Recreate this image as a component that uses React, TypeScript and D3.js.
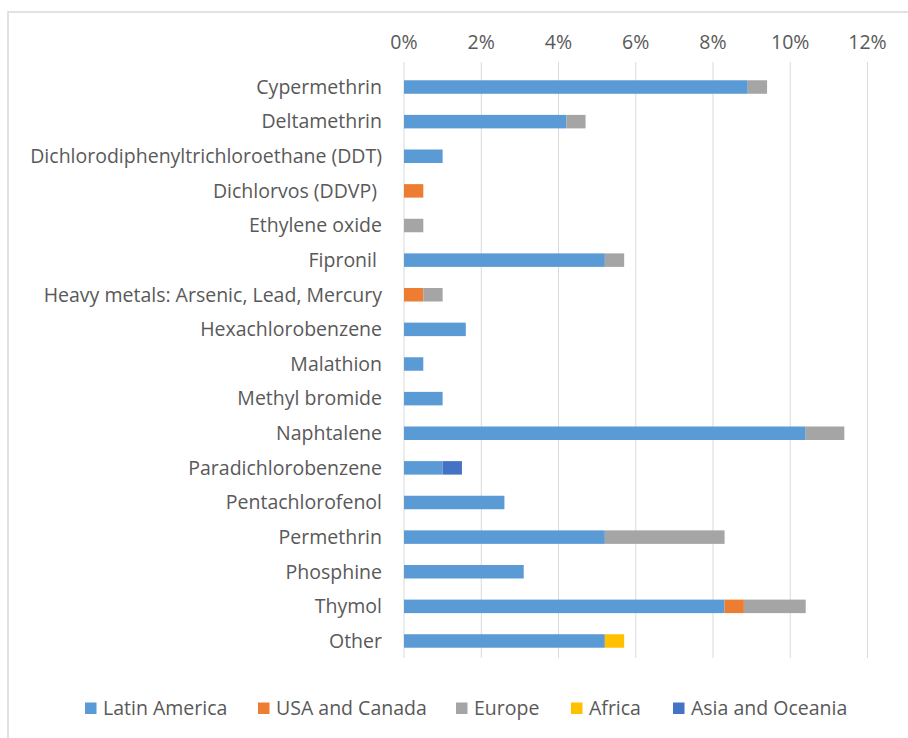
import React, { useEffect, useRef } from "react";
import * as d3 from "d3";

const categories = [
  "Cypermethrin",
  "Deltamethrin",
  "Dichlorodiphenyltrichloroethane (DDT)",
  "Dichlorvos (DDVP) ",
  "Ethylene oxide",
  "Fipronil ",
  "Heavy metals: Arsenic, Lead, Mercury",
  "Hexachlorobenzene",
  "Malathion",
  "Methyl bromide",
  "Naphtalene",
  "Paradichlorobenzene",
  "Pentachlorofenol",
  "Permethrin",
  "Phosphine",
  "Thymol",
  "Other",
];

const seriesNames = ["Latin America", "USA and Canada", "Europe", "Africa", "Asia and Oceania"];
const seriesColors = ["#5B9BD5", "#ED7D31", "#A5A5A5", "#FFC000", "#4472C4"];

// shares in percent, one entry per category
const latinAmerica = [8.9, 4.2, 1.0, 0, 0, 5.2, 0, 1.6, 0.5, 1.0, 10.4, 1.0, 2.6, 5.2, 3.1, 8.3, 5.2];
const usaCanada = [0, 0, 0, 0.5, 0, 0, 0.5, 0, 0, 0, 0, 0, 0, 0, 0, 0.5, 0];
const europe = [0.5, 0.5, 0, 0, 0.5, 0.5, 0.5, 0, 0, 0, 1.0, 0, 0, 3.1, 0, 1.6, 0];
const africa = [0, 0, 0, 0, 0, 0, 0, 0, 0, 0, 0, 0, 0, 0, 0, 0, 0.5];
const asiaOceania = [0, 0, 0, 0, 0, 0, 0, 0, 0, 0, 0, 0.5, 0, 0, 0, 0, 0];

const tickValues = [0, 2, 4, 6, 8, 10, 12];

const FONT = "'Open Sans', sans-serif";
const TEXT = "#595959";
const FS = 19.5;

export default function App() {
  const ref = useRef<SVGSVGElement | null>(null);

  useEffect(() => {
    document.body.style.margin = "0";
    const svg = d3.select(ref.current!);
    svg.selectAll("*").remove();

    const W = 908;
    const H = 738;

    svg.append("rect").attr("width", W).attr("height", H).attr("fill", "#fff");
    // chart frame (runs off the right and bottom edges)
    svg
      .append("rect")
      .attr("x", 8)
      .attr("y", 12)
      .attr("width", W + 20)
      .attr("height", H + 20)
      .attr("fill", "none")
      .attr("stroke", "#d9d9d9")
      .attr("stroke-width", 1.5);

    const x = d3.scaleLinear().domain([0, 12]).range([404, 867.5]);
    const y = d3
      .scaleBand<string>()
      .domain(categories)
      .range([69.7, 658.3])
      .paddingInner(0.61)
      .paddingOuter(0.305);

    const gridTop = 62;
    const gridBottom = 658;

    svg
      .append("g")
      .selectAll("line")
      .data(tickValues)
      .join("line")
      .attr("x1", (d) => x(d))
      .attr("x2", (d) => x(d))
      .attr("y1", gridTop)
      .attr("y2", gridBottom)
      .attr("stroke", "#d9d9d9")
      .attr("stroke-width", 1);

    svg
      .append("g")
      .selectAll("text")
      .data(tickValues)
      .join("text")
      .attr("x", (d) => x(d))
      .attr("y", 49)
      .attr("text-anchor", "middle")
      .attr("font-family", FONT)
      .attr("font-size", FS)
      .attr("fill", TEXT)
      .text((d) => `${d}%`);

    const rows = categories.map((c, i) => ({
      category: c,
      "Latin America": latinAmerica[i],
      "USA and Canada": usaCanada[i],
      Europe: europe[i],
      Africa: africa[i],
      "Asia and Oceania": asiaOceania[i],
    }));

    const stacked = d3.stack<any>().keys(seriesNames)(rows);

    svg
      .append("g")
      .selectAll("g")
      .data(stacked)
      .join("g")
      .attr("fill", (_d, i) => seriesColors[i])
      .selectAll("rect")
      .data((s) => s.filter((p) => p[1] - p[0] > 0))
      .join("rect")
      .attr("x", (p) => x(p[0]))
      .attr("width", (p) => x(p[1]) - x(p[0]))
      .attr("y", (p) => y(p.data.category)!)
      .attr("height", y.bandwidth());

    svg
      .append("g")
      .selectAll("text")
      .data(categories)
      .join("text")
      .attr("x", 382)
      .attr("y", (d) => y(d)! + y.bandwidth() / 2)
      .attr("dy", "0.35em")
      .attr("text-anchor", "end")
      .attr("font-family", FONT)
      .attr("font-size", FS)
      .attr("fill", TEXT)
      .style("white-space", "pre")
      .text((d) => d);

    // legend
    const legendStarts = [85, 258, 456, 571, 673];
    const lg = svg
      .append("g")
      .selectAll("g")
      .data(seriesNames)
      .join("g")
      .attr("transform", (_d, i) => `translate(${legendStarts[i]},0)`);
    lg.append("rect")
      .attr("x", 0)
      .attr("y", 702.5)
      .attr("width", 11.5)
      .attr("height", 11.5)
      .attr("fill", (_d, i) => seriesColors[i]);
    lg.append("text")
      .attr("x", 18)
      .attr("y", 715)
      .attr("font-family", FONT)
      .attr("font-size", FS)
      .attr("fill", TEXT)
      .text((d) => d);
  }, []);

  return <svg ref={ref} width={908} height={738} style={{ display: "block" }} />;
}
